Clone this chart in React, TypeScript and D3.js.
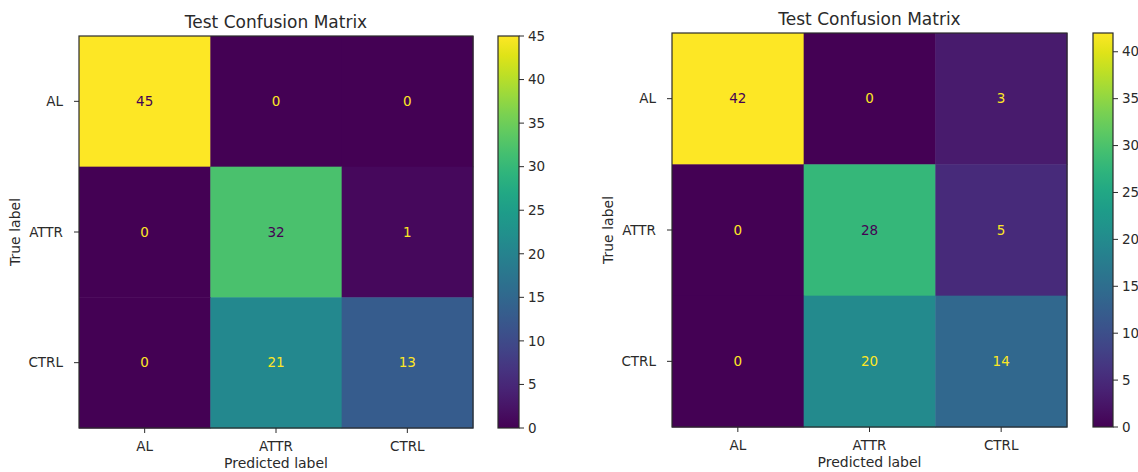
import React from "react";
import * as d3 from "d3";

// class names shared by both matrices
const classLabels = ["AL", "ATTR", "CTRL"];

// confusion counts, rows = true label, columns = predicted label
const leftMatrix = [
  [45, 0, 0],
  [0, 32, 1],
  [0, 21, 13],
];
const rightMatrix = [
  [42, 0, 3],
  [0, 28, 5],
  [0, 20, 14],
];

const leftBarTicks = [0, 5, 10, 15, 20, 25, 30, 35, 40, 45];
const rightBarTicks = [0, 5, 10, 15, 20, 25, 30, 35, 40];

const titleText = "Test Confusion Matrix";
const xTitle = "Predicted label";
const yTitle = "True label";

const FONT = "'DejaVu Sans', Verdana, sans-serif";
const TEXT = "#2a2a2a";
const FRAME = "#2b2b2b";

type PanelProps = {
  id: string;
  data: number[][];
  barTicks: number[];
  x: number;
  y: number;
  w: number;
  h: number;
  barX: number;
  barW: number;
  yTitleX: number;
};

function Panel({ id, data, barTicks, x, y, w, h, barX, barW, yTitleX }: PanelProps) {
  const flat = data.flat();
  const vmin = d3.min(flat) ?? 0;
  const vmax = d3.max(flat) ?? 1;
  const color = d3.scaleSequential(d3.interpolateViridis).domain([vmin, vmax]);
  const thresh = (vmin + vmax) / 2;

  const xScale = d3.scaleBand<string>().domain(classLabels).range([x, x + w]);
  const yScale = d3.scaleBand<string>().domain(classLabels).range([y, y + h]);
  const barScale = d3.scaleLinear().domain([vmin, vmax]).range([y + h, y]);

  const stops = d3.range(0, 1.0001, 0.05);

  return (
    <g>
      <defs>
        <linearGradient id={`grad-${id}`} x1="0" y1="1" x2="0" y2="0">
          {stops.map((t) => (
            <stop key={t} offset={t} stopColor={d3.interpolateViridis(t)} />
          ))}
        </linearGradient>
      </defs>

      {/* title */}
      <text x={x + w / 2} y={y - 8} textAnchor="middle" fontSize={17} fill={TEXT}>
        {titleText}
      </text>

      {/* cells */}
      {data.map((row, i) =>
        row.map((v, j) => (
          <g key={`${i}-${j}`}>
            <rect
              x={xScale(classLabels[j])}
              y={yScale(classLabels[i])}
              width={xScale.bandwidth() + 0.5}
              height={yScale.bandwidth() + 0.5}
              fill={color(v)}
            />
            <text
              x={(xScale(classLabels[j]) ?? 0) + xScale.bandwidth() / 2}
              y={(yScale(classLabels[i]) ?? 0) + yScale.bandwidth() / 2}
              dy="0.35em"
              textAnchor="middle"
              fontSize={13.5}
              fill={v < thresh ? d3.interpolateViridis(1) : d3.interpolateViridis(0)}
            >
              {v}
            </text>
          </g>
        ))
      )}
      <rect x={x} y={y} width={w} height={h} fill="none" stroke={FRAME} strokeWidth={1.2} />

      {/* x axis */}
      {classLabels.map((c) => {
        const cx = (xScale(c) ?? 0) + xScale.bandwidth() / 2;
        return (
          <g key={`x-${c}`}>
            <line x1={cx} x2={cx} y1={y + h} y2={y + h + 5} stroke={FRAME} />
            <text x={cx} y={y + h + 23} textAnchor="middle" fontSize={13.5} fill={TEXT}>
              {c}
            </text>
          </g>
        );
      })}
      <text x={x + w / 2} y={y + h + 40} textAnchor="middle" fontSize={14} fill={TEXT}>
        {xTitle}
      </text>

      {/* y axis */}
      {classLabels.map((c) => {
        const cy = (yScale(c) ?? 0) + yScale.bandwidth() / 2;
        return (
          <g key={`y-${c}`}>
            <line x1={x - 5} x2={x} y1={cy} y2={cy} stroke={FRAME} />
            <text x={x - 16} y={cy} dy="0.35em" textAnchor="end" fontSize={13.5} fill={TEXT}>
              {c}
            </text>
          </g>
        );
      })}
      <text
        transform={`translate(${yTitleX},${y + h / 2}) rotate(-90)`}
        textAnchor="middle"
        dy="0.35em"
        fontSize={14}
        fill={TEXT}
      >
        {yTitle}
      </text>

      {/* colorbar */}
      <rect x={barX} y={y} width={barW} height={h} fill={`url(#grad-${id})`} stroke={FRAME} strokeWidth={1.2} />
      {barTicks.map((t) => (
        <g key={`b-${t}`}>
          <line x1={barX + barW} x2={barX + barW + 5} y1={barScale(t)} y2={barScale(t)} stroke={FRAME} />
          <text x={barX + barW + 9} y={barScale(t)} dy="0.35em" fontSize={13.5} fill={TEXT}>
            {t}
          </text>
        </g>
      ))}
    </g>
  );
}

export default function App() {
  return (
    <div>
      <style>{`body{margin:0;background:#fff}`}</style>
      <svg width={1138} height={472} style={{ display: "block", fontFamily: FONT }}>
        <rect width={1138} height={472} fill="#fff" />
        <Panel
          id="left"
          data={leftMatrix}
          barTicks={leftBarTicks}
          x={79}
          y={36}
          w={394}
          h={392}
          barX={498}
          barW={21}
          yTitleX={15}
        />
        <Panel
          id="right"
          data={rightMatrix}
          barTicks={rightBarTicks}
          x={672}
          y={33}
          w={395}
          h={394}
          barX={1093}
          barW={20}
          yTitleX={608}
        />
      </svg>
    </div>
  );
}
